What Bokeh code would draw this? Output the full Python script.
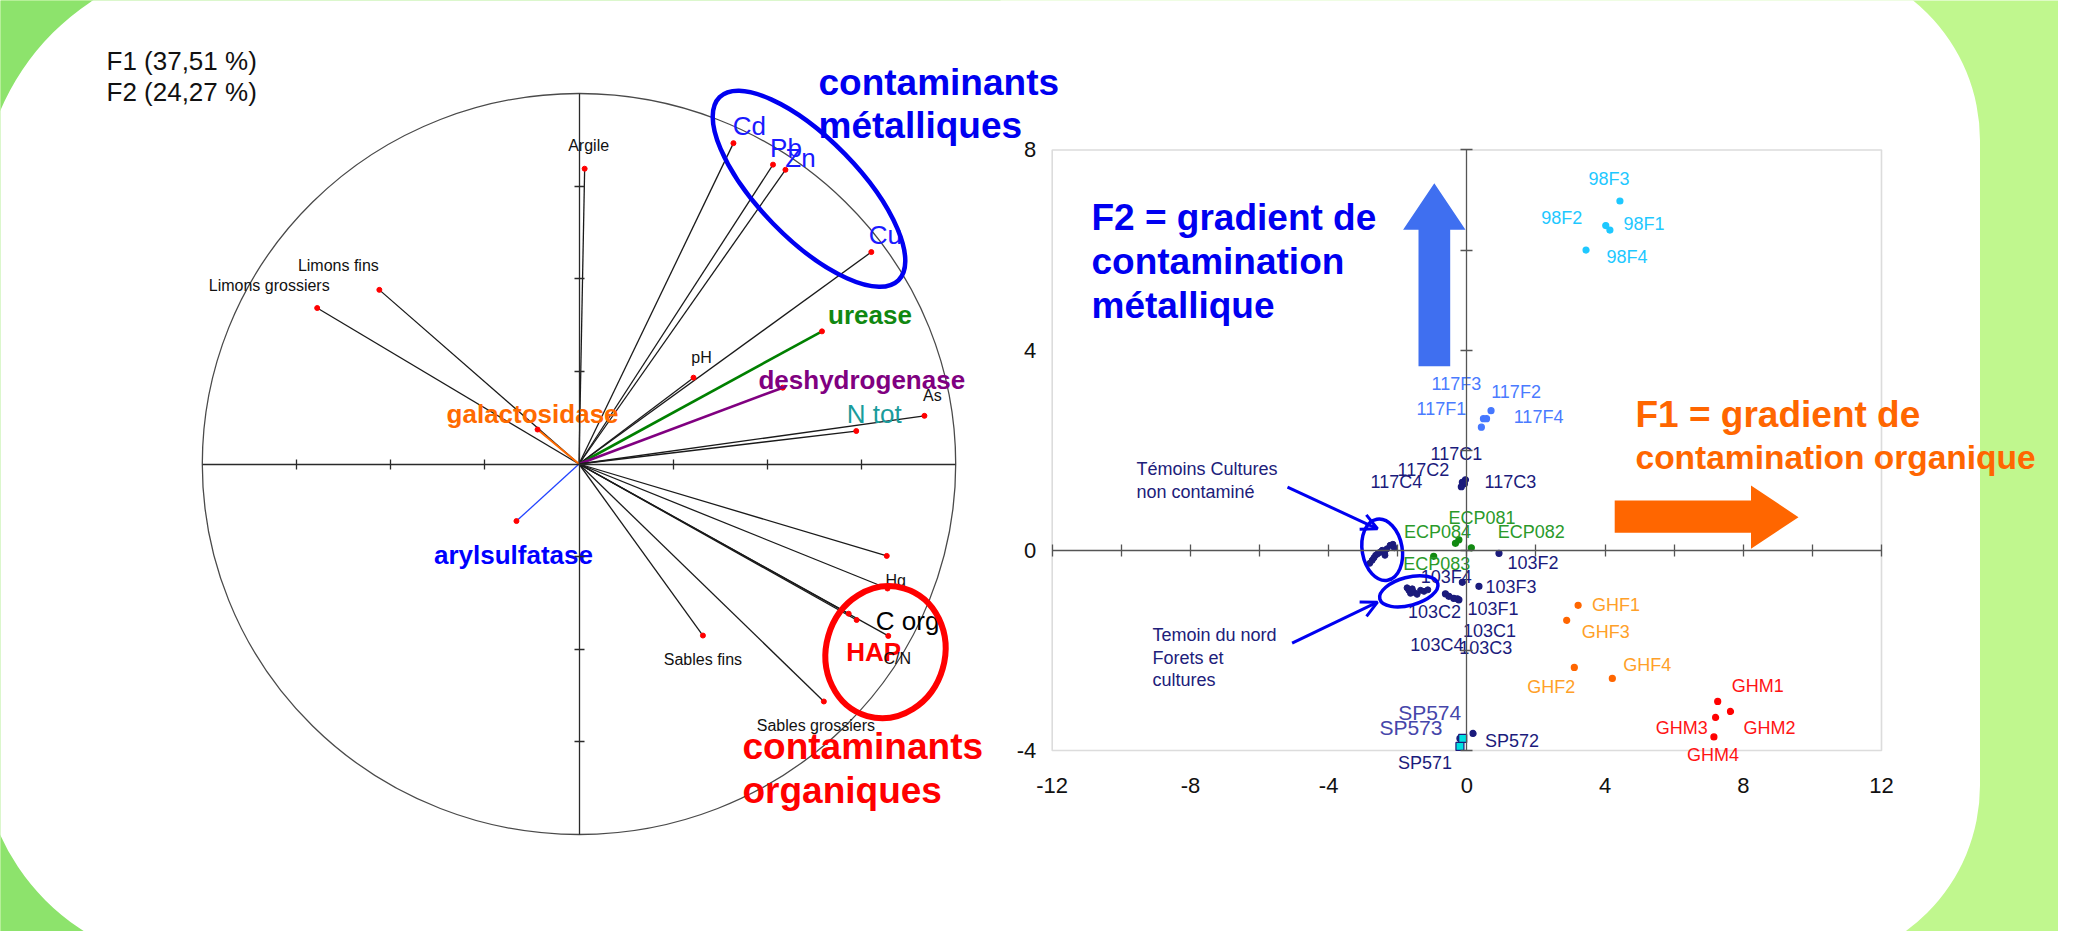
import numpy as np
from bokeh.plotting import figure
from bokeh.models import (Range1d, LinearAxis, FixedTicker, BoxAnnotation, Label,
                          Arrow, OpenHead, ColumnDataSource)
from bokeh.core.properties import value
from bokeh.embed import file_html
from bokeh.resources import INLINE

# ---------------- data : correlation circle (variables) ----------------
var_names = ["Argile", "Cd", "Pb", "Zn", "Cu", "Limons fins", "Limons grossiers",
             "urease", "pH", "deshydrogenase", "As", "N tot", "galactosidase",
             "arylsulfatase", "Hg", "", "C org", "HAP", "C/N", "Sables fins",
             "Sables grossiers"]
var_f1 = [0.015, 0.410, 0.515, 0.548, 0.776, -0.530, -0.695,
          0.645, 0.304, 0.541, 0.917, 0.736, -0.110,
          -0.166, 0.817, 0.819, 0.737, 0.716, 0.821, 0.329,
          0.650]
var_f2 = [0.797, 0.866, 0.808, 0.794, 0.572, 0.470, 0.421,
          0.358, 0.233, 0.206, 0.130, 0.089, 0.093,
          -0.154, -0.248, -0.336, -0.421, -0.404, -0.464, -0.463,
          -0.641]
inertia_labels = ["F1 (37,51 %)", "F2 (24,27 %)"]
circle_ticks = [-0.75, -0.5, -0.25, 0.25, 0.5, 0.75]

# ---------------- data : observations map ----------------
obs_names = ["98F1", "98F2", "98F3", "98F4",
             "117F1", "117F2", "117F3", "117F4",
             "117C1", "117C2", "117C3", "117C4",
             "ECP081", "ECP082", "ECP083", "ECP084",
             "103F1", "103F2", "103F3", "103F4",
             "103C1", "103C2", "103C3", "103C4",
             "SP571", "SP572", "SP573", "SP574",
             "GHF1", "GHF2", "GHF3", "GHF4",
             "GHM1", "GHM2", "GHM3", "GHM4"]
obs_f1 = [4.14, 4.02, 4.43, 3.45,
          0.42, 0.70, 0.48, 0.57,
          -0.04, -0.13, -0.07, -0.16,
          -0.23, 0.13, -0.96, -0.33,
          -0.23, 0.93, 0.35, -0.13,
          -0.27, -0.62, -0.38, -0.52,
          -0.20, 0.18, -0.20, -0.12,
          3.22, 3.11, 2.89, 4.21,
          7.26, 7.63, 7.20, 7.15]
obs_f2 = [6.40, 6.49, 6.98, 6.00,
          2.46, 2.79, 2.63, 2.63,
          1.41, 1.36, 1.33, 1.27,
          0.21, 0.05, -0.12, 0.14,
          -0.99, -0.06, -0.72, -0.64,
          -0.97, -0.87, -0.96, -0.92,
          -3.92, -3.66, -3.76, -3.76,
          -1.10, -2.34, -1.40, -2.56,
          -3.02, -3.22, -3.34, -3.73]
obs_group = ["98F"] * 4 + ["117F"] * 4 + ["117C"] * 4 + ["ECP"] * 4 + ["103"] * 8 + \
            ["SP"] * 4 + ["GHF"] * 4 + ["GHM"] * 4

# unlabeled control sites
cult_f1 = [-2.81, -2.74, -2.69, -2.64, -2.58, -2.52, -2.45, -2.38, -2.31, -2.22, -2.14, -2.10, -2.37]
cult_f2 = [-0.26, -0.20, -0.15, -0.10, -0.07, -0.04, 0.00, -0.06, 0.03, 0.10, 0.12, 0.05, -0.10]
nord_f1 = [-1.73, -1.68, -1.63, -1.53, -1.44, -1.34, -1.24, -1.13, -1.58]
nord_f2 = [-0.75, -0.80, -0.86, -0.84, -0.88, -0.80, -0.82, -0.79, -0.77]

x_ticks = [-12, -8, -4, 0, 4, 8, 12]
x_tick_labels = ["-12", "-8", "-4", "0", "4", "8", "12"]
y_ticks = [-4, 0, 4, 8]
y_tick_labels = ["-4", "0", "4", "8"]
inner_x_ticks = [-12, -10, -8, -6, -4, -2, 0, 2, 4, 6, 8, 10, 12]
inner_y_ticks = [-4, -2, 0, 2, 4, 6, 8]

# ---------------- styles / layout ----------------
FONT = "Liberation Sans"
W, H, OFF = 2058, 931, 0
CX, CY, RX, RY = 578.5, 463.5, 376.7, 370.5          # circle geometry (px)
SX0, SY0, SKX, SKY = 1466.35, 549.8, 34.554, 50.04   # map geometry (px)
DARK_GREEN, LIGHT_GREEN = "#8de36c", "#c0f78e"
NAVY = "#1b1b7c"
BLUE = "#0000f0"

var_label_style = {  # dx, dy (screen px), size, bold, color
    "Argile": (4, -23, 16, False, "#111111"),
    "Cd": (16, -17, 26, False, "#1a1aff"),
    "Pb": (13, -17, 26, False, "#1a1aff"),
    "Zn": (15, -12, 26, False, "#1a1aff"),
    "Cu": (14, -17, 26, False, "#1a1aff"),
    "Limons fins": (-41, -24, 16, False, "#111111"),
    "Limons grossiers": (-48, -23, 16, False, "#111111"),
    "urease": (48, -16, 26, True, "#118811"),
    "pH": (8, -20, 16, False, "#111111"),
    "deshydrogenase": (79, -8, 26, True, "#800080"),
    "As": (8, -20, 16, False, "#111111"),
    "N tot": (18, -17, 26, False, "#1a9c9c"),
    "galactosidase": (-5, -16, 26, True, "#ff6a00"),
    "arylsulfatase": (-3, 34, 26, True, "#0000ff"),
    "Hg": (9, 25, 16, False, "#111111"),
    "C org": (51, 1, 26, False, "#000000"),
    "HAP": (25, 38, 26, True, "#ff0000"),
    "C/N": (9, 23, 16, False, "#111111"),
    "Sables fins": (0, 24, 16, False, "#111111"),
    "Sables grossiers": (-8, 24, 16, False, "#111111"),
}
var_line_style = {"urease": ("#008000", 2.6), "deshydrogenase": ("#800080", 2.6),
                  "galactosidase": ("#ff6a00", 2.0), "arylsulfatase": ("#2244ff", 1.3)}

obs_label_offset = {
    "98F1": (34, -6), "98F2": (-44, -8), "98F3": (-11, -22), "98F4": (41, 7),
    "117F1": (-40, -18), "117F2": (25, -19), "117F3": (-27, -35), "117F4": (52, -2),
    "117C1": (-9, -26), "117C2": (-39, -12), "117C3": (46, -2), "117C4": (-65, -5),
    "ECP081": (23, -22), "ECP082": (60, -16), "ECP083": (3, 8), "ECP084": (-18, -11),
    "103F1": (34, 9), "103F2": (34, 10), "103F3": (32, 1), "103F4": (-16, -5),
    "103C1": (32, 32), "103C2": (-11, 18), "103C3": (32, 50), "103C4": (-12, 49),
    "SP571": (-35, 17), "SP572": (39, 8), "SP573": (-49, -11), "SP574": (-33, -26),
    "GHF1": (38, 0), "GHF2": (-23, 20), "GHF3": (39, 12), "GHF4": (35, -13),
    "GHM1": (40, -15), "GHM2": (39, 17), "GHM3": (-34, 11), "GHM4": (-1, 18),
}
group_style = {  # point colour, label colour
    "98F": ("#1ec8ff", "#1ec8ff"), "117F": ("#4678ff", "#4a7bff"),
    "117C": (NAVY, NAVY), "ECP": ("#128a12", "#2a9a2a"), "103": (NAVY, NAVY),
    "SP": (NAVY, NAVY), "GHF": ("#ff6600", "#ffa028"), "GHM": ("#ff0000", "#ff1414"),
}
square_obs = {"SP571", "SP574"}
big_label_obs = {"SP573": "#4646aa", "SP574": "#4646aa"}

# ---------------- figure ----------------
p = figure(width=W, height=H,
           x_range=Range1d(OFF, OFF + W), y_range=Range1d(OFF + H, OFF),
           x_axis_type=None, y_axis_type=None,
           toolbar_location=None, output_backend="svg", min_border=0,
           outline_line_color=None,
           background_fill_color=LIGHT_GREEN, border_fill_color=LIGHT_GREEN)
p.extra_x_ranges = {"cx": Range1d((OFF - CX) / RX, (OFF + W - CX) / RX),
                    "sx": Range1d((OFF - SX0) / SKX, (OFF + W - SX0) / SKX)}
p.extra_y_ranges = {"cy": Range1d((CY - (OFF + H)) / RY, (CY - OFF) / RY),
                    "sy": Range1d((SY0 - (OFF + H)) / SKY, (SY0 - OFF) / SKY)}

# background slide
p.add_layout(BoxAnnotation(left=OFF - 20, right=1000, top=OFF - 20, bottom=OFF + H + 20,
                           fill_color=DARK_GREEN, fill_alpha=1, line_color=None, level="underlay"))
p.add_layout(BoxAnnotation(left=-20, right=1979.5, top=-40, bottom=965,
                           fill_color="white", fill_alpha=1, line_color=None,
                           border_radius=(247, 180, 180, 222), level="underlay"))

# ---------------- correlation circle ----------------
p.ellipse(x=[0], y=[0], width=[2], height=[2], x_range_name="cx", y_range_name="cy",
          fill_color=None, line_color="#4a4a4a", line_width=1.3)


def inner_axis(xr, yr, where, ticks, bounds, tick_len, color, lw):
    ax = LinearAxis(x_range_name=xr, y_range_name=yr, fixed_location=0, bounds=bounds,
                    ticker=FixedTicker(ticks=ticks), major_tick_in=tick_len,
                    major_tick_out=tick_len, minor_tick_line_color=None,
                    axis_line_color=color, axis_line_width=lw,
                    major_tick_line_color=color, major_tick_line_width=lw,
                    major_label_overrides={t: "" for t in ticks})
    p.add_layout(ax, where)


inner_axis("cx", "cy", "below", circle_ticks, (-1, 1), 5, "#2a2a2a", 1.3)
inner_axis("cx", "cy", "left", circle_ticks, (-1, 1), 5, "#2a2a2a", 1.3)

vcol = [var_line_style.get(n, ("#1a1a1a", 1.3))[0] for n in var_names]
vlw = [var_line_style.get(n, ("#1a1a1a", 1.3))[1] for n in var_names]
vsrc = ColumnDataSource(dict(x0=[0] * len(var_names), y0=[0] * len(var_names),
                             x1=var_f1, y1=var_f2, color=vcol, lw=vlw))
p.segment("x0", "y0", "x1", "y1", source=vsrc, line_color="color", line_width="lw",
          x_range_name="cx", y_range_name="cy")
p.scatter("x1", "y1", source=vsrc, size=5, fill_color="#ff0000", line_color="#ff0000",
          x_range_name="cx", y_range_name="cy")

lab = [i for i, n in enumerate(var_names) if n]
lsrc = ColumnDataSource(dict(
    x=[var_f1[i] for i in lab], y=[var_f2[i] for i in lab],
    text=[var_names[i] for i in lab],
    dx=[var_label_style[var_names[i]][0] for i in lab],
    dy=[var_label_style[var_names[i]][1] for i in lab],
    size=["%dpx" % var_label_style[var_names[i]][2] for i in lab],
    style=["bold" if var_label_style[var_names[i]][3] else "normal" for i in lab],
    color=[var_label_style[var_names[i]][4] for i in lab]))
p.text("x", "y", text="text", source=lsrc, x_offset="dx", y_offset="dy",
       text_font=value(FONT), text_font_size="size", text_font_style="style",
       text_color="color", text_align="center", text_baseline="middle",
       x_range_name="cx", y_range_name="cy")

# ---------------- observations map ----------------
p.add_layout(BoxAnnotation(left=-12, right=12, bottom=-4, top=8, x_range_name="sx",
                           y_range_name="sy", fill_alpha=0, fill_color=None,
                           line_color="#8c8c8c", line_width=1.6, level="underlay"))
inner_axis("sx", "sy", "below", inner_x_ticks, (-12, 12), 6, "#555555", 1.3)
inner_axis("sx", "sy", "left", inner_y_ticks, (-4, 8), 6, "#555555", 1.3)

xb = LinearAxis(x_range_name="sx", y_range_name="sy", fixed_location=-4,
                ticker=FixedTicker(ticks=x_ticks), axis_line_color=None,
                major_tick_line_color=None, minor_tick_line_color=None,
                major_tick_out=0, major_tick_in=0, major_label_standoff=28,
                major_label_overrides=dict(zip(x_ticks, x_tick_labels)),
                major_label_text_font=FONT, major_label_text_font_size="22px",
                major_label_text_color="#111111")
p.add_layout(xb, "below")
yl = LinearAxis(x_range_name="sx", y_range_name="sy", fixed_location=-12,
                ticker=FixedTicker(ticks=y_ticks), axis_line_color=None,
                major_tick_line_color=None, minor_tick_line_color=None,
                major_tick_out=0, major_tick_in=0, major_label_standoff=16,
                major_label_overrides=dict(zip(y_ticks, y_tick_labels)),
                major_label_text_font=FONT, major_label_text_font_size="22px",
                major_label_text_color="#111111", major_label_orientation="horizontal")
p.add_layout(yl, "left")

p.scatter(cult_f1, cult_f2, size=6, color=NAVY, x_range_name="sx", y_range_name="sy")
p.scatter(nord_f1, nord_f2, size=6, color=NAVY, x_range_name="sx", y_range_name="sy")

osrc = ColumnDataSource(dict(
    x=obs_f1, y=obs_f2, text=obs_names,
    marker=["square" if n in square_obs else "circle" for n in obs_names],
    msize=[8 if n in square_obs else 6 for n in obs_names],
    fill=["#00e0e0" if n in square_obs else group_style[g][0] for n, g in zip(obs_names, obs_group)],
    line=[NAVY if n in square_obs else group_style[g][0] for n, g in zip(obs_names, obs_group)],
    lcolor=[big_label_obs.get(n, group_style[g][1]) for n, g in zip(obs_names, obs_group)],
    lsize=["21px" if n in big_label_obs else "18px" for n in obs_names],
    dx=[obs_label_offset[n][0] for n in obs_names],
    dy=[obs_label_offset[n][1] for n in obs_names]))
p.scatter("x", "y", source=osrc, marker="marker", size="msize", fill_color="fill",
          line_color="line", line_width=1.2, x_range_name="sx", y_range_name="sy")
p.text("x", "y", text="text", source=osrc, x_offset="dx", y_offset="dy",
       text_font=value(FONT), text_font_size="lsize", text_color="lcolor",
       text_align="center", text_baseline="middle", x_range_name="sx", y_range_name="sy")

# ---------------- slide annotations (px) ----------------
p.ellipse(x=[808.5, 885, 1381.7, 1408.3], y=[188.3, 651.7, 549.3, 590.8],
          width=[256, 119, 40, 60], height=[100, 133, 62, 28],
          angle=list(np.radians([-45.7, -16, 10, 15])),
          width_units="screen", height_units="screen", fill_color=None,
          line_color=[BLUE, "#ff0000", BLUE, BLUE], line_width=[4.5, 6, 3.5, 3.5])

# big arrows
p.patch([1418, 1449.7, 1449.7, 1465, 1433.8, 1402.6, 1418],
        [365.7, 365.7, 229.3, 229.3, 182.7, 229.3, 229.3],
        fill_color="#3f6ff0", line_color=None)
p.patch([1614.2, 1750.5, 1750.5, 1798, 1750.5, 1750.5, 1614.2],
        [500, 500, 485, 516.7, 548.3, 532.3, 532.3],
        fill_color="#ff6600", line_color=None)

for xs, ys, xe, ye in [(1287, 486.7, 1377, 528.3), (1291.6, 642.7, 1377, 601.7)]:
    p.add_layout(Arrow(end=OpenHead(size=16, line_color=BLUE, line_width=3),
                       x_start=xs, y_start=ys, x_end=xe, y_end=ye,
                       line_color=BLUE, line_width=3))


def txt(x, y, s, size, color, bold=False):
    p.add_layout(Label(x=x, y=y, text=s, text_font=FONT, text_font_size="%gpx" % size,
                       text_color=color, text_font_style="bold" if bold else "normal",
                       text_align="left", text_baseline="middle"))


txt(106, 60, inertia_labels[0], 26, "#111111")
txt(106, 91, inertia_labels[1], 26, "#111111")
txt(818, 82, "contaminants", 37, BLUE, True)
txt(818, 125, "métalliques", 37, BLUE, True)
txt(742, 746, "contaminants", 37, "#ff0000", True)
txt(742, 790, "organiques", 37, "#ff0000", True)
txt(1091, 217, "F2 = gradient de", 37, BLUE, True)
txt(1091, 261, "contamination", 37, BLUE, True)
txt(1091, 305, "métallique", 37, BLUE, True)
txt(1635, 414, "F1 = gradient de", 37, "#ff6600", True)
txt(1635, 457, "contamination organique", 33.5, "#ff6600", True)
txt(1136, 468, "Témoins Cultures", 18, "#20207a")
txt(1136, 491, "non contaminé", 18, "#20207a")
txt(1152, 634, "Temoin du nord", 18, "#20207a")
txt(1152, 657, "Forets et", 18, "#20207a")
txt(1152, 679, "cultures", 18, "#20207a")

open("out.html", "w").write(file_html(p, INLINE, "ACP"))
